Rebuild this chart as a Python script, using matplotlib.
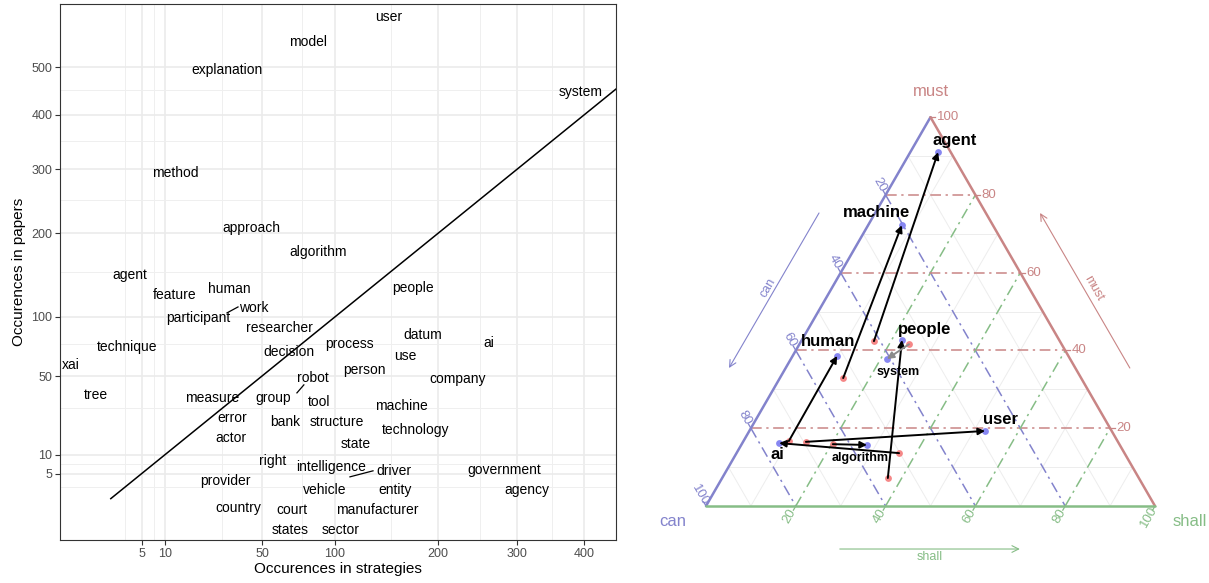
import matplotlib.pyplot as plt
import numpy as np

plt.rcParams['font.family'] = ['Liberation Sans', 'DejaVu Sans']

# ---- left panel: word counts (strategies vs papers)
words = ['user', 'model', 'explanation', 'system', 'method', 'approach', 'algorithm',
         'agent', 'feature', 'human', 'work', 'participant', 'people', 'researcher',
         'technique', 'datum', 'ai', 'process', 'decision', 'use', 'xai', 'person',
         'robot', 'company', 'tree', 'measure', 'group', 'tool', 'machine', 'error',
         'bank', 'structure', 'technology', 'actor', 'state', 'right', 'intelligence',
         'driver', 'government', 'provider', 'vehicle', 'entity', 'agency', 'country',
         'court', 'manufacturer', 'states', 'sector']
strategies = [148, 79.5, 32, 394, 12.8, 44.4, 86.8,
              3.1, 12.8, 33, 45.5, 20.2, 172, 60.7,
              2.7, 183, 262, 111.6, 66.5, 164, -0.36, 125.5,
              83.1, 223, 0.16, 25.6, 56.4, 87.6, 160, 34.4,
              63.9, 101.6, 175.6, 33.9, 117.6, 56.4, 96.8,
              153, 281.8, 31.2, 92.1, 154, 313.7, 37.3,
              68.4, 136.6, 67.1, 104.9]
papers = [617, 557, 494, 447, 293, 207.6, 174.7,
          145.9, 123, 129.6, 109, 99, 130.8, 89.4,
          72.5, 83, 75.9, 75, 68.3, 65.1, 58.1, 54.4,
          48.7, 48, 37.7, 35.9, 35.9, 33.5, 31.3, 25,
          23.1, 23.1, 19.4, 16.1, 13.8, 8.24, 6.63,
          5.65, 5.88, 3.54, 2.06, 2.06, 2.06, 0.30,
          0.2, 0.2, -0.30, -0.30]

# repel segments (point -> label)
seg_point_x = [32.1, 71.8, 112.4]
seg_point_y = [104, 38.9, 4.32]
seg_label_x = [37.3, 76.6, 132.9]
seg_label_y = [110.1, 44, 5.65]

x_ticks = [5, 10, 50, 100, 200, 300, 400]
y_ticks = [5, 10, 50, 100, 200, 300, 400, 500]
x_minor = [2.5, 7.5, 30, 75, 150, 250, 350]
y_minor = [2.5, 7.5, 30, 75, 150, 250, 350, 450]

# ---- right panel: ternary shares in % (can, shall, must)
tern_words = ['agent', 'machine', 'human', 'people', 'system', 'ai', 'user', 'algorithm']
from_can = [41.4, 53.0, 73.2, 55.9, 34.0, 50.2, 69.5, 63.8]
from_shall = [16.2, 14.1, 10.1, 36.9, 24.4, 36.2, 14.0, 20.3]
from_must = [42.4, 32.9, 16.7, 7.2, 41.6, 13.6, 16.5, 15.9]
to_can = [2.8, 20.3, 51.5, 35.0, 40.8, 75.7, 28.2, 56.3]
to_shall = [6.2, 7.5, 9.9, 22.3, 21.4, 8.2, 52.5, 28.0]
to_must = [91.0, 72.2, 38.6, 42.7, 37.8, 16.2, 19.3, 15.7]

# label layout (pixels) and style
label_offset = {'agent': (17, 12), 'machine': (-25, 13), 'human': (-9, 14), 'people': (23, 10),
                'system': (11, -13), 'ai': (-2, -11), 'user': (15, 11), 'algorithm': (-7, -13)}
label_small = ['system', 'algorithm']

C_MUST = '#C98585'
C_CAN = '#8383CC'
C_SHALL = '#86BD86'


def fwd(v):
    v = np.asarray(v, dtype=float)
    return np.sign(v) * np.sqrt(np.abs(v))


def inv(v):
    v = np.asarray(v, dtype=float)
    return np.sign(v) * v ** 2


def do_left(fig):
    ax = fig.add_axes([60 / 1209, 43 / 583, 556 / 1209, 536 / 583])
    ax.set_xscale('function', functions=(fwd, inv))
    ax.set_yscale('function', functions=(fwd, inv))
    ax.set_xlim(-1.08, 453)
    ax.set_ylim(-1.1, 650)
    ax.set_xticks(x_ticks)
    ax.set_yticks(y_ticks)
    ax.set_xticks(x_minor, minor=True)
    ax.set_yticks(y_minor, minor=True)
    ax.set_xticklabels([str(t) for t in x_ticks])
    ax.set_yticklabels([str(t) for t in y_ticks])
    ax.tick_params(which='major', length=3.5, width=0.8, color='#333333',
                   labelsize=9, labelcolor='#4D4D4D', pad=2)
    ax.tick_params(which='minor', length=0)
    ax.set_axisbelow(True)
    ax.grid(which='major', color='#EBEBEB', lw=1.2)
    ax.grid(which='minor', color='#EFEFEF', lw=0.7)
    for s in ax.spines.values():
        s.set_color('#333333')
        s.set_linewidth(0.8)

    ax.plot([1, 453], [1, 453], color='black', lw=1.1)
    for px, py, lx, ly in zip(seg_point_x, seg_point_y, seg_label_x, seg_label_y):
        ax.plot([px, lx], [py, ly], color='black', lw=0.9)
    for w, sx, py in zip(words, strategies, papers):
        ax.text(sx, py, w, ha='center', va='center', fontsize=10, color='black')

    ax.set_xlabel('Occurences in strategies', fontsize=11, labelpad=2)
    ax.set_ylabel('Occurences in papers', fontsize=11, labelpad=4)


H = np.sqrt(3) / 2


def tern(can, shall, must):
    tot = np.asarray(can) + np.asarray(shall) + np.asarray(must)
    s = np.asarray(shall) / tot
    m = np.asarray(must) / tot
    return s + m / 2, m * H


def do_right(fig):
    ax = fig.add_axes([640 / 1209, 0, 569 / 1209, 1])
    ax.set_xlim(-66 / 449, 503 / 449)
    ax.set_ylim(-77 / 449, 506 / 449)
    ax.axis('off')

    # minor grid
    for v in [0.1, 0.3, 0.5, 0.7, 0.9]:
        for a, b in [((1 - v, 0, v), (0, 1 - v, v)),
                     ((v, 0, 1 - v), (v, 1 - v, 0)),
                     ((1 - v, v, 0), (0, v, 1 - v))]:
            xa, ya = tern(*a)
            xb, yb = tern(*b)
            ax.plot([xa, xb], [ya, yb], color='#EDEDED', lw=0.7, zorder=1)
    # major grid
    dash = (0, (7, 3, 1.5, 3))
    for v in [0.2, 0.4, 0.6, 0.8]:
        xa, ya = tern(1 - v, 0, v)
        xb, yb = tern(0, 1 - v, v)
        ax.plot([xa, xb], [ya, yb], color=C_MUST, lw=1.1, ls=dash, zorder=2)
        xa, ya = tern(v, 0, 1 - v)
        xb, yb = tern(v, 1 - v, 0)
        ax.plot([xa, xb], [ya, yb], color=C_CAN, lw=1.1, ls=dash, zorder=2)
        xa, ya = tern(1 - v, v, 0)
        xb, yb = tern(0, v, 1 - v)
        ax.plot([xa, xb], [ya, yb], color=C_SHALL, lw=1.1, ls=dash, zorder=2)

    # edges
    ax.plot([0, 0.5], [0, H], color=C_CAN, lw=1.8, zorder=3, solid_capstyle='round')
    ax.plot([0.5, 1], [H, 0], color=C_MUST, lw=1.8, zorder=3, solid_capstyle='round')
    ax.plot([0, 1], [0, 0], color=C_SHALL, lw=1.8, zorder=3, solid_capstyle='round')

    # ticks and tick labels
    d = 6 / 449
    for v in [0.2, 0.4, 0.6, 0.8, 1.0]:
        lab = str(int(round(v * 100)))
        # must on right edge
        x, y = tern(0, 1 - v, v)
        ax.plot([x, x + d * 0.8], [y, y], color=C_MUST, lw=0.9)
        ax.text(x + d, y, lab, color=C_MUST, fontsize=9.5, ha='left', va='center')
        # can on left edge
        x, y = tern(v, 0, 1 - v)
        ux, uy = -0.5, H
        ax.plot([x, x + ux * d * 0.8], [y, y + uy * d * 0.8], color=C_CAN, lw=0.9)
        ax.text(x + ux * 2 * d, y + uy * 2 * d, lab, color=C_CAN, fontsize=9.5,
                ha='center', va='center', rotation=-60, rotation_mode='anchor')
        # shall on bottom
        x, y = tern(1 - v, v, 0)
        ux, uy = -0.5, -H
        ax.plot([x, x + ux * d * 0.8], [y, y + uy * d * 0.8], color=C_SHALL, lw=0.9)
        ax.text(x + ux * 2 * d, y + uy * 2 * d, lab, color=C_SHALL, fontsize=9.5,
                ha='center', va='center', rotation=60, rotation_mode='anchor')

    # axis titles
    ax.text(0.5, H + 26 / 449, 'must', color=C_MUST, fontsize=12, ha='center', va='center')
    ax.text(-33 / 449, -15 / 449, 'can', color=C_CAN, fontsize=12, ha='center', va='center')
    ax.text(484 / 449, -15 / 449, 'shall', color=C_SHALL, fontsize=12, ha='center', va='center')

    # direction arrows
    arr = dict(arrowstyle='->', lw=0.8, shrinkA=0, shrinkB=0, mutation_scale=12)
    ax.annotate('', xy=(0.0512, 0.3073), xytext=(0.2517, 0.6526),
                arrowprops=dict(arr, color=C_CAN))
    ax.text(0.138, 0.4855, 'can', color=C_CAN, fontsize=9, rotation=60,
            ha='center', va='center', rotation_mode='anchor')
    ax.annotate('', xy=(0.744, 0.6526), xytext=(0.944, 0.3073),
                arrowprops=dict(arr, color=C_MUST))
    ax.text(0.862, 0.4855, 'must', color=C_MUST, fontsize=9, rotation=-60,
            ha='center', va='center', rotation_mode='anchor')
    ax.annotate('', xy=(0.699, -0.0958), xytext=(0.298, -0.0958),
                arrowprops=dict(arr, color=C_SHALL))
    ax.text(0.499, -0.1136, 'shall', color=C_SHALL, fontsize=9, ha='center', va='center')

    # points and arrows
    fx, fy = tern(from_can, from_shall, from_must)
    tx, ty = tern(to_can, to_shall, to_must)
    ax.scatter(fx, fy, s=24, color='#F47A7A', alpha=0.9, lw=0, zorder=4)
    ax.scatter(tx, ty, s=24, color='#7A7AF0', alpha=0.9, lw=0, zorder=4)
    for w, x0, y0, x1, y1 in zip(tern_words, fx, fy, tx, ty):
        col = '#8C8C8C' if w == 'system' else 'black'
        ax.annotate('', xy=(x1, y1), xytext=(x0, y0), zorder=5,
                    arrowprops=dict(arrowstyle='-|>', color=col, lw=1.4,
                                    shrinkA=0, shrinkB=0, mutation_scale=10))
        fs = 9 if w in label_small else 12
        ax.annotate(w, xy=(x1, y1), xytext=label_offset[w], textcoords='offset pixels',
                    ha='center', va='center', fontsize=fs, fontweight='bold', zorder=6)


def do_plot():
    fig = plt.figure(figsize=(12.09, 5.83), dpi=100)
    do_left(fig)
    do_right(fig)
    fig.savefig('out.png', dpi=100)


if __name__ == '__main__':
    do_plot()
